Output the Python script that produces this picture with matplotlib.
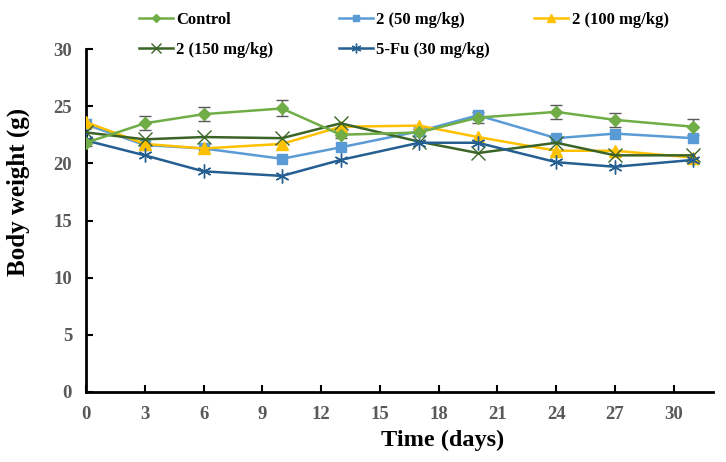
import matplotlib
matplotlib.use("Agg")
import matplotlib.pyplot as plt
from matplotlib.lines import Line2D

days = [0, 3, 6, 10, 13, 17, 20, 24, 27, 31]

control = [21.8, 23.5, 24.3, 24.8, 22.5, 22.7, 24.0, 24.5, 23.8, 23.2]
control_err = [0.3, 0.6, 0.6, 0.7, 0.3, 0.3, 0.5, 0.6, 0.6, 0.7]
dose50 = [23.4, 21.6, 21.3, 20.4, 21.4, 22.8, 24.2, 22.2, 22.6, 22.2]
dose100 = [23.6, 21.7, 21.3, 21.7, 23.2, 23.3, 22.3, 21.1, 21.1, 20.5]
dose150 = [22.7, 22.1, 22.3, 22.2, 23.5, 21.9, 20.9, 21.8, 20.7, 20.7]
fu = [22.0, 20.7, 19.3, 18.9, 20.3, 21.8, 21.8, 20.1, 19.7, 20.3]

labels = ["Control", "2 (50 mg/kg)", "2 (100 mg/kg)", "2 (150 mg/kg)", "5-Fu (30 mg/kg)"]
colors = ["#70AD47", "#5B9BD5", "#FFC000", "#3B6427", "#255E91"]
markers = ["D", "s", "^", "x", (6, 2, 0)]
msizes = [6, 7, 8, 10, 10]
xticks = list(range(0, 31, 3))
yticks = list(range(0, 31, 5))

serif = ["Liberation Serif", "DejaVu Serif"]
plt.rcParams["font.family"] = serif
plt.rcParams["font.weight"] = "bold"

W, H = 726, 462
x0, x1, y0, y1 = 86, 713, 392, 49   # axes box in pixels
fig = plt.figure(figsize=(W / 100, H / 100), dpi=100)
ax = fig.add_axes([x0 / W, 1 - y0 / H, (x1 - x0) / W, (y0 - y1) / H])

lw = 1.8
ax.errorbar(days, control, yerr=control_err, color=colors[0], lw=lw,
            marker=markers[0], ms=msizes[0], ecolor="#595959", elinewidth=1,
            capsize=4, capthick=1, zorder=3)
for ys, c, m, s in zip([dose50, dose100, dose150, fu], colors[1:], markers[1:], msizes[1:]):
    ax.plot(days, ys, color=c, lw=lw, marker=m, ms=s, mew=1, zorder=3)

ax.set_xlim(0, 32)
ax.set_ylim(0, 30)
ax.set_xticks(xticks)
ax.set_yticks(yticks)
ax.tick_params(direction="in", length=5, width=1.5, labelsize=13.5,
               labelcolor="#595959", pad=10)
for s in ["top", "right"]:
    ax.spines[s].set_visible(False)
for s in ["left", "bottom"]:
    ax.spines[s].set_linewidth(2)
for t in ax.get_xticklabels() + ax.get_yticklabels():
    t.set_fontweight("bold")

ax.set_xlabel("Time (days)", fontsize=17.5, fontweight="bold", va="center")
ax.set_ylabel("Body weight (g)", fontsize=18, fontweight="bold", va="center")
ax.xaxis.set_label_coords((443 - x0) / (x1 - x0), (y0 - 440) / (y0 - y1))
ax.yaxis.set_label_coords((18 - x0) / (x1 - x0), (y0 - 192) / (y0 - y1))

# legend entries placed one by one, like the Excel flow layout
spots = [(139, 20), (339, 20), (534, 20), (139, 50), (339, 50)]
for lab, c, m, s, (px, py) in zip(labels, colors, markers, msizes, spots):
    h = Line2D([], [], color=c, lw=lw, marker=m, ms=s * 0.7, mew=1)
    fig.legend([h], [lab], loc="center left", bbox_to_anchor=(px / W, 1 - py / H),
               frameon=False, borderpad=0, borderaxespad=0, handlelength=2.05,
               handletextpad=0.2, prop={"family": serif, "weight": "bold", "size": 12})

fig.savefig("out.png", dpi=100)
